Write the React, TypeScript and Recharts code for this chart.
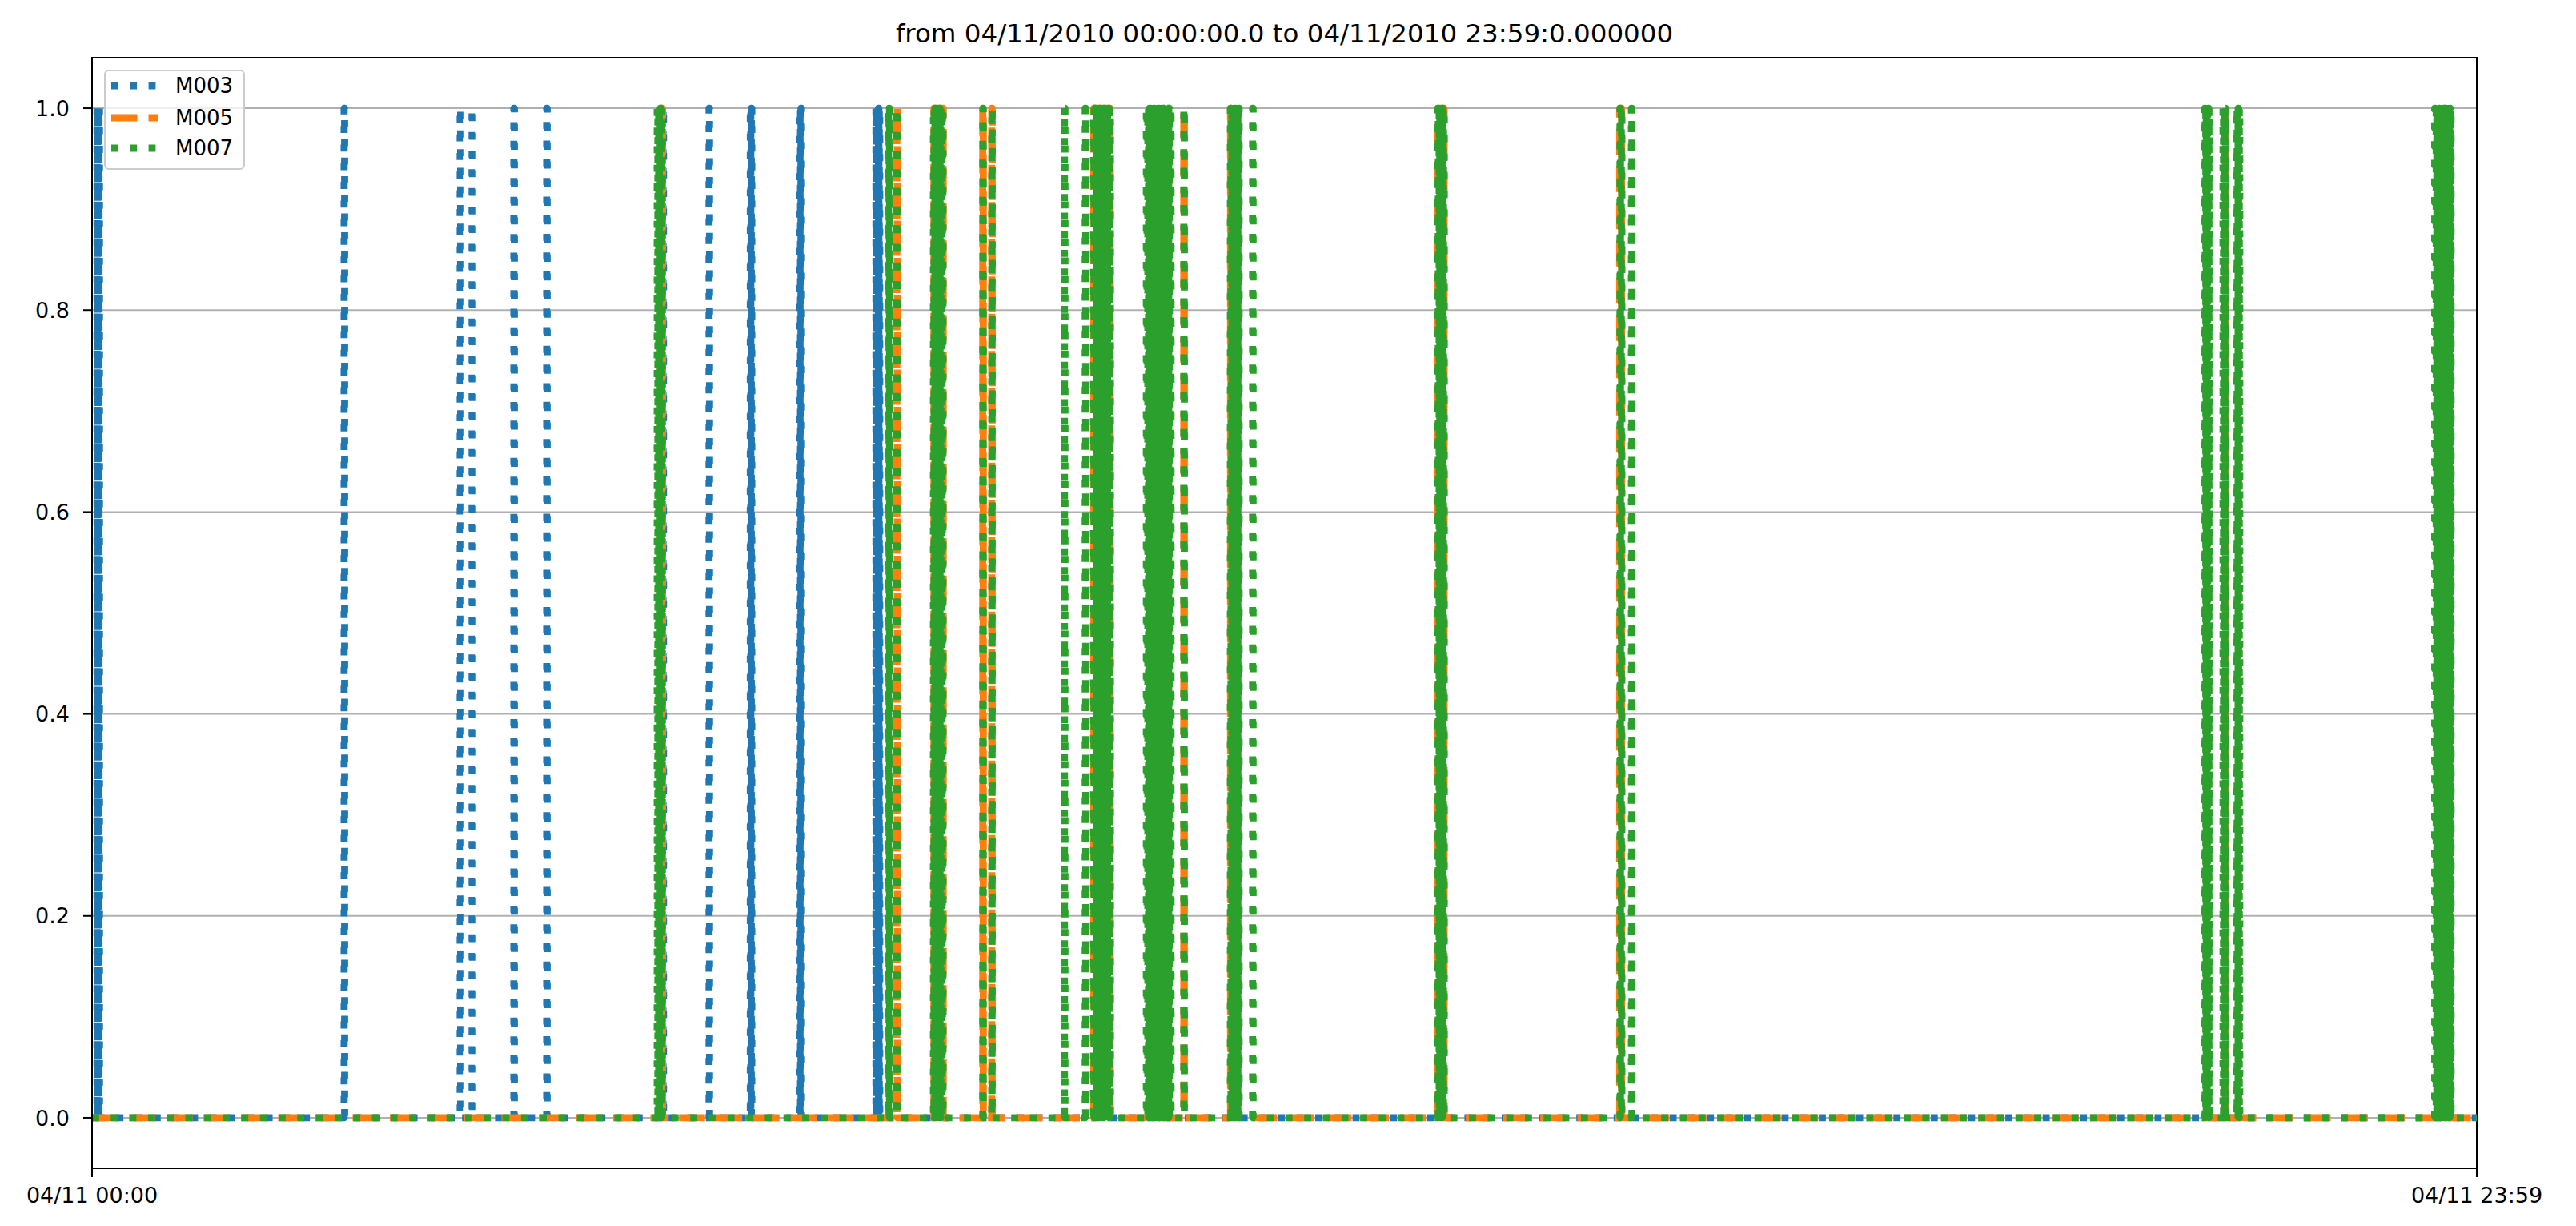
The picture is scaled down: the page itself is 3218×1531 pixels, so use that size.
import { LineChart, Line, XAxis, YAxis, CartesianGrid, ReferenceArea } from "recharts";

const TITLE = "from 04/11/2010 00:00:00.0 to 04/11/2010 23:59:0.000000";
const X_TICKS = [0, 1439];
const X_TICK_LABELS = ["04/11 00:00", "04/11 23:59"];
const Y_TICKS = [0, 0.2, 0.4, 0.6, 0.8, 1.0];

// sensor ON pulses, [on, off] in minutes after midnight
const M003_ON: [number, number][] = [
  [3.0, 3.3], [3.6, 3.9], [4.2, 4.5],
  [152.1, 152.4],
  [222.1, 222.4],
  [229.3, 229.6],
  [254.5, 254.8],
  [274.3, 274.6],
  [344.5, 344.8],
  [372.3, 372.6],
  [397.2, 397.5], [397.8, 398.1],
  [427.2, 427.5], [427.8, 428.1],
  [473, 473.3], [473.5, 473.8], [474, 474.3], [474.5, 474.8], [475, 475.3],
];

const M005_ON: [number, number][] = [
  [343.8, 344.2],
  [485.6, 485.9],
  [508, 513.6],
  [537.5, 537.8], [542.9, 543.2],
  [604.5, 614.4],
  [658.8, 659.1],
  [687, 687.3],
  [812, 815.9],
  [921.8, 923],
  [1287.3, 1287.6],
  [1419.1, 1419.4],
];

const M007_ON: [number, number][] = [
  [341, 341.4], [341.9, 342.3], [342.8, 343.2], [343.7, 344.1],
  [480.3, 480.6], [480.9, 481.2],
  [485.5, 485.8],
  [507.7, 508.1], [508.6, 509], [509.5, 509.9], [510.4, 510.8], [511.3, 511.7], [512.2, 512.6], [513.1, 513.5],
  [537.5, 537.8], [542.9, 543.2],
  [586.8, 587.1],
  [599.3, 599.6],
  [604.3, 604.7], [605.2, 605.6], [606.1, 606.5], [607, 607.4], [607.9, 608.3], [608.8, 609.2],
  [609.7, 610.1], [610.6, 611], [611.5, 611.9], [612.4, 612.8], [613.3, 613.7], [614.2, 614.5],
  [636.2, 636.6], [637.1, 637.5], [638, 638.4], [638.9, 639.3], [639.8, 640.2], [640.7, 641.1],
  [641.6, 642], [642.5, 642.9], [643.4, 643.8], [644.3, 644.7], [645.2, 645.6], [646.1, 646.5],
  [647, 647.4], [647.9, 648.3], [648.8, 649.2], [649.7, 650.1], [650.6, 651.1],
  [658.8, 659.1],
  [686.9, 687.3], [687.8, 688.2], [688.7, 689.1], [689.6, 690], [690.5, 690.9], [691.4, 691.8], [691.9, 692.2],
  [700.3, 700.6],
  [812, 812.4], [812.9, 813.3], [813.8, 814.2], [814.7, 815.1], [815.5, 815.9],
  [922, 922.3], [922.8, 923.1],
  [928.9, 929.2],
  [1274.8, 1275.1], [1275.5, 1275.8], [1276.2, 1276.6], [1277, 1277.3], [1277.4, 1277.7],
  [1285.9, 1286.2], [1286.6, 1286.9], [1287.2, 1287.5],
  [1294.1, 1294.4], [1295, 1295.3], [1295.7, 1296],
  [1413.6, 1414], [1414.5, 1414.9], [1415.4, 1415.8], [1416.3, 1416.7], [1417.2, 1417.6], [1418.1, 1418.5],
  [1419, 1419.4], [1419.9, 1420.3], [1420.8, 1421.2], [1421.7, 1422.1], [1422.6, 1423], [1423.2, 1423.5],
];

const DOT = "8.8 14.5";
const DASH = "32.5 14";

const SERIES = [
  { name: "M003", pulses: M003_ON, color: "#1f77b4", dash: DOT },
  { name: "M005", pulses: M005_ON, color: "#ff7f0e", dash: DASH },
  { name: "M007", pulses: M007_ON, color: "#2ca02c", dash: DOT },
];

// turn ON/OFF pulses into a 0/1 step trace
function toSteps(pulses: [number, number][]) {
  const pts = [{ t: X_TICKS[0], v: 0 }];
  for (const [on, off] of pulses) {
    pts.push({ t: on, v: 0 }, { t: on, v: 1 }, { t: off, v: 1 }, { t: off, v: 0 });
  }
  pts.push({ t: X_TICKS[1], v: 0 });
  return pts;
}

const FONT = "'DejaVu Sans', sans-serif";
const W = 3218;
const H = 1531;

function LegendBox() {
  return (
    <div
      style={{
        position: "absolute", left: 130, top: 87, width: 176, height: 125,
        boxSizing: "border-box", border: "2px solid #cccccc", borderRadius: 6,
        background: "rgba(255,255,255,0.8)",
      }}
    >
      {SERIES.map((s, i) => (
        <div
          key={s.name}
          style={{
            position: "absolute", left: 7, top: [-2, 38, 76][i], height: 40,
            display: "flex", alignItems: "center",
          }}
        >
          <svg width={58} height={20} style={{ display: "block" }}>
            <line x1={0} y1={10} x2={58} y2={10} stroke={s.color} strokeWidth={8.8}
                  strokeDasharray={s.dash} />
          </svg>
          <span style={{ marginLeft: 22, fontSize: 26, color: "#000", lineHeight: "30px" }}>{s.name}</span>
        </div>
      ))}
    </div>
  );
}

export default function App() {
  const traces = SERIES.map((s) => ({ ...s, data: toSteps(s.pulses) }));

  return (
    <div style={{ position: "absolute", left: 0, top: 0, width: W, height: H, background: "#fff", fontFamily: FONT }}>
      <div
        style={{
          position: "absolute", left: 115, top: 22, width: 2979, textAlign: "center",
          fontSize: 32.5, lineHeight: "40px", color: "#000",
        }}
      >
        {TITLE}
      </div>

      <LineChart width={W} height={H} margin={{ top: 72, right: 124, bottom: 12, left: 15 }}>
        <CartesianGrid vertical={false} stroke="#b0b0b0" strokeWidth={2} horizontalValues={Y_TICKS} />
        <XAxis
          type="number" dataKey="t" domain={[X_TICKS[0], X_TICKS[1]]} ticks={X_TICKS} interval={0}
          height={60} tickSize={11} tickMargin={13}
          tickFormatter={(v: number) => X_TICK_LABELS[X_TICKS.indexOf(v)] ?? ""}
          tick={{ fontSize: 27, fill: "#000", fontFamily: FONT }}
          axisLine={{ stroke: "#000", strokeWidth: 2 }} tickLine={{ stroke: "#000", strokeWidth: 2 }}
        />
        <YAxis
          type="number" domain={[-0.05, 1.05]} ticks={Y_TICKS} interval={0}
          width={100} tickSize={11} tickMargin={17}
          tickFormatter={(v: number) => v.toFixed(1)}
          tick={{ fontSize: 27, fill: "#000", fontFamily: FONT }}
          axisLine={{ stroke: "#000", strokeWidth: 2 }} tickLine={{ stroke: "#000", strokeWidth: 2 }}
        />
        {traces.map((s) => (
          <Line
            key={s.name} data={s.data} dataKey="v" name={s.name} type="linear"
            stroke={s.color} strokeWidth={8.8} strokeDasharray={s.dash} strokeLinejoin="round"
            dot={false} activeDot={false} isAnimationActive={false}
          />
        ))}
        <ReferenceArea x1={X_TICKS[0]} x2={X_TICKS[1]} y1={-0.05} y2={1.05}
                       fill="none" fillOpacity={0} stroke="#000" strokeWidth={2} />
      </LineChart>

      <LegendBox />
    </div>
  );
}
